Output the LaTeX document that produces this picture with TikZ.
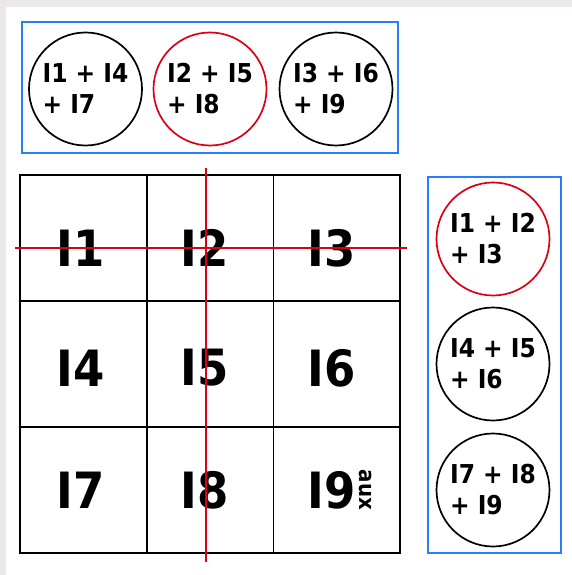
\documentclass[tikz,border=0pt]{standalone}
\usepackage{fontspec}
\setmainfont{DejaVu Sans Condensed}
\newfontfamily\heavyfont{DejaVu Sans Condensed}
\usepackage{xcolor}
\usepackage{tikz}
\usetikzlibrary{positioning}

\definecolor{boxblue}{RGB}{40,125,255}
\definecolor{cutred}{RGB}{220,0,20}
\definecolor{pagegray}{RGB}{237,232,232}

\begin{document}
\begin{tikzpicture}[x=1pt, y=-1pt,
  cell/.style={draw, line width=1.7pt, minimum width=126.7pt, minimum height=126pt, inner sep=0pt},
  celllabel/.style={inner sep=0pt, font=\fontsize{50}{50}\selectfont\heavyfont\bfseries},
  sumcirc/.style={draw, circle, line width=1.7pt, minimum size=113pt, inner sep=0pt, align=left,
    font=\fontsize{26}{31}\selectfont\heavyfont\bfseries},
  groupbox/.style={draw=boxblue, line width=2.2pt, inner sep=0pt},
  cutline/.style={cutred, line width=1.6pt}]

  % page background
  \useasboundingbox (0,0) rectangle (572,575);
  \fill[pagegray] (0,0) rectangle (572,575);
  \fill[white] (6,7) rectangle (572,575);

  % Grid of the nine cells
  \foreach \r in {0,1,2} {
    \foreach \c in {0,1,2} {
      \node[cell] (c\r\c) at ({83.3+126.7*\c},{238+126*\r}) {};
    }
  }
  \foreach \y [count=\r from 0] in {248,368,490} {
    \foreach \x [count=\c from 1] in {81,205,332} {
      \pgfmathtruncatemacro\n{3*\r+\c}
      \node[celllabel] (l\n) at (\x,\y) {I\n};
    }
  }
  \node[rotate=-90, inner sep=0pt, font=\fontsize{22}{22}\selectfont\heavyfont\bfseries] (aux) at (365,490) {aux};

  % Red cut lines through the first row and the middle column
  \coordinate (hL) at (15,248);
  \coordinate (hR) at (407,248);
  \coordinate (vT) at (206,168);
  \coordinate (vB) at (206,562);
  \draw[cutline] (hL) -- (hR);
  \draw[cutline] (vT) -- (vB);

  % Column sums (top)
  \node[groupbox, minimum width=376pt, minimum height=131pt] (colbox) at (210,87.5) {};
  \node[sumcirc] (cs1) at (85.5,89) {I1 + I4\\+ I7};
  \node[sumcirc, draw=cutred] (cs2) at (210,89) {I2 + I5\\+ I8};
  \node[sumcirc] (cs3) at (336,89) {I3 + I6\\+ I9};

  % Row sums (right)
  \node[groupbox, minimum width=133pt, minimum height=376pt] (rowbox) at (494.5,365) {};
  \node[sumcirc, draw=cutred] (rs1) at (493,239) {I1 + I2\\+ I3};
  \node[sumcirc] (rs2) at (493,364) {I4 + I5\\+ I6};
  \node[sumcirc] (rs3) at (493,490) {I7 + I8\\+ I9};

\end{tikzpicture}
\end{document}
